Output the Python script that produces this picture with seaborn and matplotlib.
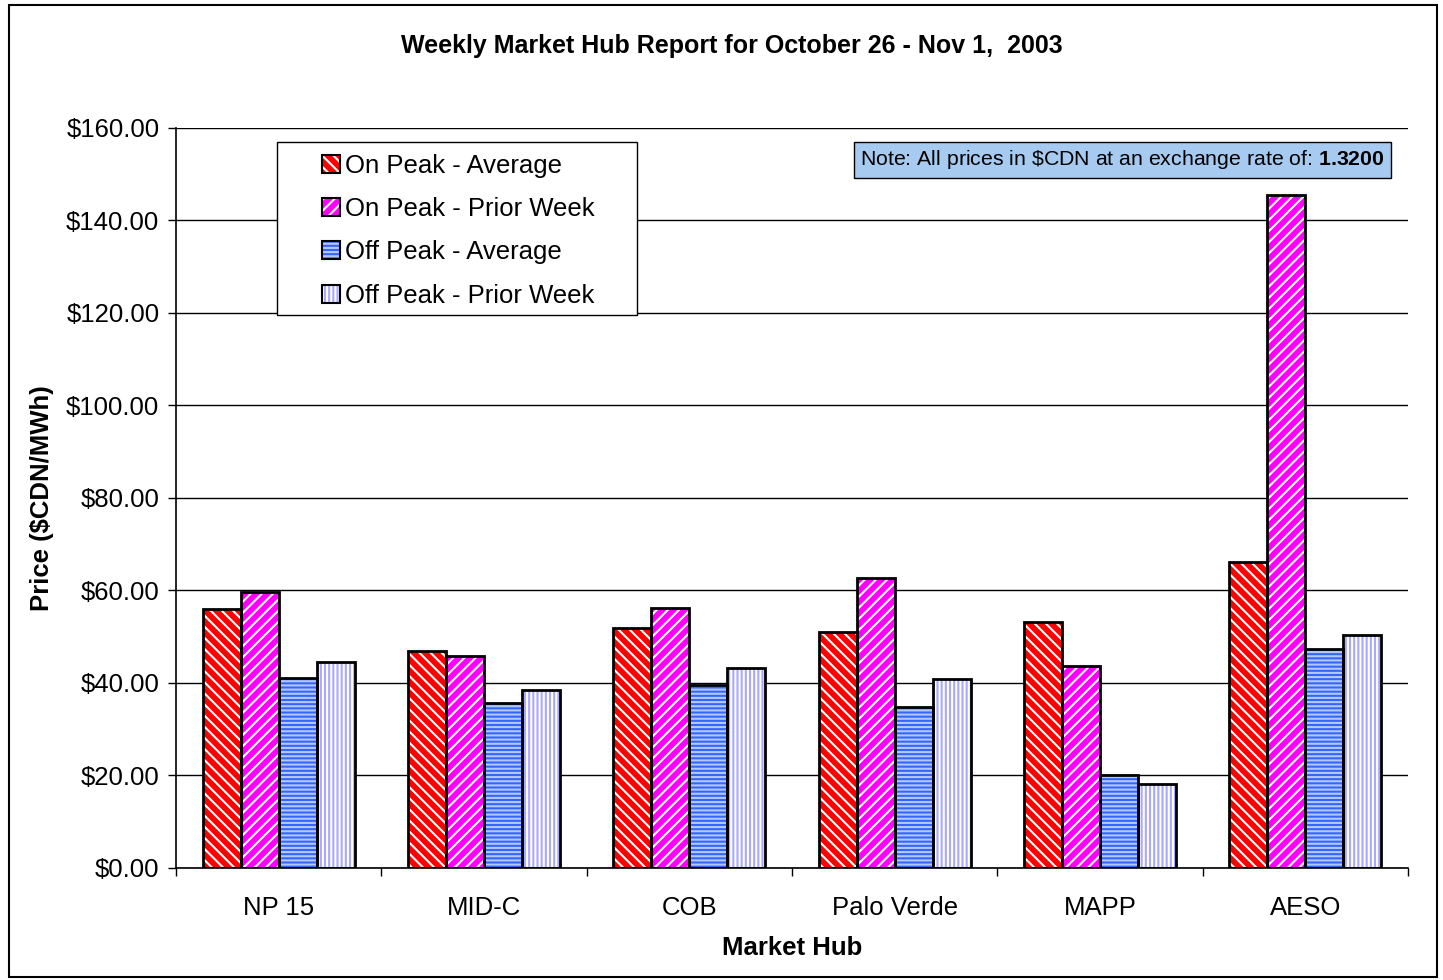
import matplotlib
matplotlib.use("Agg")
import matplotlib.pyplot as plt
from matplotlib.patches import Rectangle, Patch
from matplotlib.legend_handler import HandlerTuple
from matplotlib.ticker import FuncFormatter, MultipleLocator
import seaborn as sns
import pandas as pd

hubs = ["NP 15", "MID-C", "COB", "Palo Verde", "MAPP", "AESO"]
series = ["On Peak - Average", "On Peak - Prior Week", "Off Peak - Average", "Off Peak - Prior Week"]
on_avg = [56.0, 46.9, 51.9, 51.0, 53.2, 66.2]
on_prior = [59.7, 45.8, 56.2, 62.7, 43.7, 145.5]
off_avg = [41.1, 35.7, 39.6, 34.8, 20.1, 47.4]
off_prior = [44.5, 38.5, 43.2, 40.9, 18.2, 50.4]

colors = ["#FF0000", "#FF00FF", "#3366FF", "#A8A8FF"]
hatch_colors = ["white", "white", "#B4C8FF", "white"]
hatches = ["\\\\\\", "///", "----", "||||"]

df = pd.DataFrame({
    "hub": hubs * 4,
    "series": [s for s in series for _ in hubs],
    "price": on_avg + on_prior + off_avg + off_prior,
})

sns.set_style("white")
plt.rcParams["font.family"] = ["Liberation Sans", "DejaVu Sans"]
plt.rcParams["text.color"] = "black"
plt.rcParams["axes.labelcolor"] = "black"
plt.rcParams["xtick.color"] = "black"
plt.rcParams["ytick.color"] = "black"
plt.rcParams["hatch.linewidth"] = 1.5
plt.rcParams["mathtext.fontset"] = "custom"
plt.rcParams["mathtext.rm"] = "Liberation Sans"
plt.rcParams["mathtext.bf"] = "Liberation Sans:bold"

fig = plt.figure(figsize=(14.43, 9.8), dpi=100)
ax = fig.add_axes([0.122, 0.1143, 0.8537, 0.7551])

sns.barplot(data=df, x="hub", y="price", hue="series", order=hubs, hue_order=series,
            palette=colors, width=0.74, ax=ax, legend=False, errorbar=None, saturation=1)

# hatching on the fill, black outline drawn on top
for i, s in enumerate(series):
    for p in ax.containers[i]:
        p.set_hatch(hatches[i])
        p.set_edgecolor(hatch_colors[i])
        p.set_linewidth(0)
        ax.add_patch(Rectangle(p.get_xy(), p.get_width(), p.get_height(),
                               fill=False, edgecolor="black", linewidth=2, zorder=3))

ax.set_ylim(0, 160)
ax.set_xlim(-0.5, 5.5)
ax.yaxis.set_major_locator(MultipleLocator(20))
ax.yaxis.set_major_formatter(FuncFormatter(lambda v, _: f"${v:.2f}"))
ax.grid(axis="y", color="black", linewidth=1)
ax.set_axisbelow(True)
for sp in ["top", "right"]:
    ax.spines[sp].set_visible(False)
for sp in ["left", "bottom"]:
    ax.spines[sp].set_color("black")
    ax.spines[sp].set_linewidth(1.2)

ax.tick_params(axis="y", length=6, width=1, direction="out", left=True, labelsize=18.5, pad=6)
ax.tick_params(axis="x", length=0, labelsize=18.5, pad=20)
ax.set_xticks(range(len(hubs)))
ax.set_xticklabels(hubs)
ax.set_xticks([i + 0.5 for i in range(-1, len(hubs))], minor=True)
ax.tick_params(axis="x", which="minor", length=6, width=1, direction="out", bottom=True)

ax.set_xlabel("Market Hub", fontsize=18.5, fontweight="bold", labelpad=12)
ax.set_ylabel("Price ($CDN/MWh)", fontsize=18.5, fontweight="bold", labelpad=9)

fig.text(0.507, 0.953, "Weekly Market Hub Report for October 26 - Nov 1,  2003",
         ha="center", va="center", fontsize=18, fontweight="bold")

# legend: hatched patch with a black outline over it
handles = [(Patch(facecolor=colors[i], hatch=hatches[i], edgecolor=hatch_colors[i], linewidth=0),
            Patch(fill=False, edgecolor="black", linewidth=1.5)) for i in range(4)]
leg = ax.legend(handles, series, loc="center left", bbox_to_anchor=(0.1185, 0.861),
                fontsize=18.5, frameon=False,
                handler_map={tuple: HandlerTuple(ndivide=1, pad=0)},
                handlelength=0.7, handleheight=0.7, handletextpad=0.2,
                labelspacing=0.75, borderpad=0, borderaxespad=0)
ax.add_patch(Rectangle((0.082, 0.747), 0.292, 0.234, transform=ax.transAxes,
                       facecolor="white", edgecolor="black", linewidth=1, zorder=4))
leg.set_zorder(5)

ax.text(0.981, 0.957, "Note: All prices in \\$CDN at an exchange rate of: $\\mathbf{1.3200}$",
        transform=ax.transAxes, ha="right", va="center", fontsize=15.3, zorder=6,
        bbox=dict(boxstyle="square,pad=0.3", facecolor="#A6CAF0", edgecolor="black", linewidth=1))

fig.add_artist(Rectangle((0.006, 0.003), 0.99, 0.992, transform=fig.transFigure,
                         fill=False, edgecolor="black", linewidth=1.5))

fig.savefig("out.png", dpi=100)
